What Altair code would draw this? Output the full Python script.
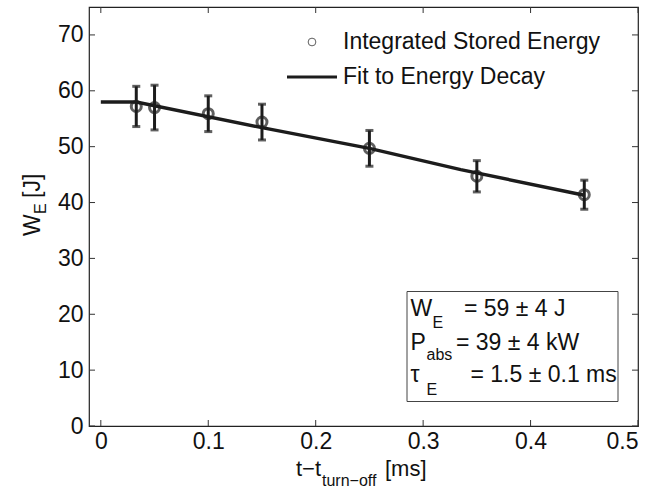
import altair as alt
import pandas as pd

# ---- data ----
t_ms = [0.033, 0.05, 0.10, 0.15, 0.25, 0.35, 0.45]
energy_J = [57.2, 57.0, 55.9, 54.4, 49.7, 44.7, 41.4]
err_J = [3.6, 4.0, 3.2, 3.2, 3.2, 2.8, 2.6]

fit_t = [0.0, 0.033, 0.15, 0.25, 0.335, 0.45]
fit_W = [58.0, 58.0, 53.4, 49.7, 45.9, 41.3]

x_ticks = [0, 0.1, 0.2, 0.3, 0.4, 0.5]
y_ticks = [0, 10, 20, 30, 40, 50, 60, 70]

legend_labels = ["Integrated Stored Energy", "Fit to Energy Decay"]

FONT = "Liberation Sans"
INK = "#1c1c1c"
W, H = 549, 419
FS = 23
FS_SUB = 16

pts = pd.DataFrame({"t": t_ms, "W": energy_J, "err": err_J})
pts["lo"] = pts["W"] - pts["err"]
pts["hi"] = pts["W"] + pts["err"]
fit = pd.DataFrame({"t": fit_t, "W": fit_W})

xs = alt.Scale(domain=[-0.011, 0.5], nice=False, zero=False)
ys = alt.Scale(domain=[0, 75], nice=False, zero=True)

xaxis = alt.Axis(values=x_ticks, tickSize=0, grid=False, domain=False,
                 labelExpr="datum.value == 0 ? '0' : format(datum.value, '.1f')",
                 labelFont=FONT, labelFontSize=FS, labelColor="#111", labelPadding=4, title=None)
yaxis = alt.Axis(values=y_ticks, tickSize=0, grid=False, domain=False,
                 labelFont=FONT, labelFontSize=FS, labelColor="#111", labelPadding=6, title=None)

base = alt.Chart(pts)

fit_line = alt.Chart(fit).mark_line(color=INK, strokeWidth=3.4).encode(
    x=alt.X("t:Q", scale=xs, axis=xaxis),
    y=alt.Y("W:Q", scale=ys, axis=yaxis),
)

bars = base.mark_rule(color=INK, strokeWidth=3).encode(
    x=alt.X("t:Q", scale=xs), y=alt.Y("lo:Q", scale=ys), y2="hi:Q")
cap_lo = base.mark_tick(orient="horizontal", color=INK, size=8, thickness=3).encode(
    x=alt.X("t:Q", scale=xs), y=alt.Y("lo:Q", scale=ys))
cap_hi = base.mark_tick(orient="horizontal", color=INK, size=8, thickness=3).encode(
    x=alt.X("t:Q", scale=xs), y=alt.Y("hi:Q", scale=ys))
circles = base.mark_point(shape="circle", filled=False, color=INK, size=100, strokeWidth=3).encode(
    x=alt.X("t:Q", scale=xs), y=alt.Y("W:Q", scale=ys))

# inward box ticks
xt = pd.DataFrame({"v": x_ticks})
yt = pd.DataFrame({"v": y_ticks})
tick_style = dict(color="#333", strokeWidth=1)
t_bot = alt.Chart(xt).mark_rule(**tick_style).encode(
    x=alt.X("v:Q", scale=xs), y=alt.value(H), y2=alt.value(H - 6))
t_top = alt.Chart(xt).mark_rule(**tick_style).encode(
    x=alt.X("v:Q", scale=xs), y=alt.value(0), y2=alt.value(6))
t_left = alt.Chart(yt).mark_rule(**tick_style).encode(
    y=alt.Y("v:Q", scale=ys), x=alt.value(0), x2=alt.value(6))
t_right = alt.Chart(yt).mark_rule(**tick_style).encode(
    y=alt.Y("v:Q", scale=ys), x=alt.value(W), x2=alt.value(W - 6))

# legend (manual)
one = pd.DataFrame({"k": [0]})
leg_circle = alt.Chart(one).mark_point(shape="circle", filled=False, color=INK, size=60, strokeWidth=1).encode(
    x=alt.value(223), y=alt.value(35))
leg_line = alt.Chart(one).mark_rule(color=INK, strokeWidth=3).encode(
    x=alt.value(198), x2=alt.value(248), y=alt.value(70))
leg_txt1 = alt.Chart(one).mark_text(text=legend_labels[0], font=FONT, fontSize=FS, align="left",
                                     baseline="middle", color="#111").encode(x=alt.value(254), y=alt.value(35))
leg_txt2 = alt.Chart(one).mark_text(text=legend_labels[1], font=FONT, fontSize=FS, align="left",
                                     baseline="middle", color="#111").encode(x=alt.value(254), y=alt.value(70))

# annotation box
box = alt.Chart(one).mark_rect(fill="white", stroke="#444", strokeWidth=1).encode(
    x=alt.value(318), x2=alt.value(529), y=alt.value(284.5), y2=alt.value(394.5))


def txt(s, x, y, size=FS, angle=0):
    kw = dict(text=s, font=FONT, fontSize=size, align="left", baseline="alphabetic", color="#111")
    if angle:
        kw["angle"] = angle
    return alt.Chart(one).mark_text(**kw).encode(x=alt.value(x), y=alt.value(y))


FS_XT = 22
annots = [
    txt("W", 321.5, 309), txt("E", 343.5, 320.5, FS_SUB), txt("=  59 ± 4 J", 375, 309),
    txt("P", 321.5, 342.5), txt("abs", 337.5, 352.5, FS_SUB), txt("=  39 ± 4 kW", 367, 342.5),
    txt("τ", 321.5, 374.5), txt("E", 337.5, 387.5, FS_SUB), txt("= 1.5 ± 0.1 ms", 381.5, 374.5),
    # x title
    txt("t−t", 207, 469, FS_XT), txt("turn−off", 233, 479, FS_SUB), txt("[ms]", 296, 469, FS_XT),
    # y title (rotated)
    txt("W", -49, 229, FS, 270), txt("E", -43, 207, FS_SUB, 270), txt("[J]", -49, 191, FS, 270),
]

chart = alt.layer(
    fit_line, bars, cap_lo, cap_hi, circles,
    t_bot, t_top, t_left, t_right,
    leg_circle, leg_line, leg_txt1, leg_txt2,
    box, *annots,
).properties(
    width=W, height=H,
    padding={"left": 89, "top": 7, "right": 32, "bottom": 65},
    autosize=alt.AutoSizeParams(type="none"),
    background="white",
).configure_view(stroke="#222", strokeWidth=1.2)

chart.save("out.html", embed_options={"renderer": "svg", "actions": False})
